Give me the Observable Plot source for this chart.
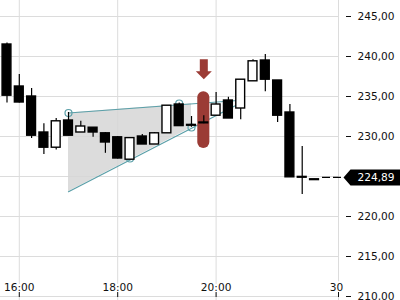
<!DOCTYPE html>
<html>
<head>
<meta charset="utf-8">
<script src="https://cdn.jsdelivr.net/npm/d3@7"></script>
<script src="https://cdn.jsdelivr.net/npm/@observablehq/plot@0.6"></script>
<style>
  html, body { margin: 0; padding: 0; background: #fff; }
</style>
</head>
<body>
<div id="chart"></div>
<script>
// 15-minute candles (index 0..25)
const openV  = [241.5, 236.25, 235.0, 230.5, 228.6, 232.0, 230.5, 231.1, 230.4, 229.9, 227.1, 230.0, 229.0, 230.4, 234.0, 231.45, 231.75, 232.6, 234.5, 233.5, 236.9, 239.5, 237.0, 233.0, 224.95, 224.65];
const closeV = [235.1, 234.25, 230.1, 228.6, 231.9, 230.1, 231.25, 230.5, 229.25, 227.25, 229.8, 229.0, 230.4, 233.85, 231.3, 231.35, 231.65, 234.0, 232.25, 237.1, 239.4, 237.1, 232.6, 224.9, 224.85, 224.55];
const highV  = [241.7, 237.75, 236.0, 231.6, 232.25, 233.0, 231.9, 231.1, 230.5, 230.0, 229.8, 230.25, 230.5, 233.85, 234.2, 232.5, 232.6, 235.5, 234.9, 237.1, 239.6, 240.25, 237.0, 234.0, 228.75, 224.65];
const lowV   = [234.2, 234.2, 229.75, 227.75, 228.3, 230.1, 230.5, 229.9, 227.9, 227.2, 227.1, 229.0, 229.0, 230.4, 231.3, 231.15, 231.6, 232.6, 232.25, 232.1, 236.9, 235.6, 231.75, 224.9, 222.75, 224.55];

const lastPrice = 224.89;

// scales / ticks
const xDomain = [-0.528, 26.95];
const yDomain = [209.5, 247];
const gridYValues = [210, 215, 220, 225, 230, 235, 240, 245];
const yTickValues = [210, 215, 220, 230, 235, 240, 245];
const xTickPos = [1, 9, 17, 26.95];
const xTickLabels = ["16:00", "18:00", "20:00", "30"];

// rising wedge pattern
const wedgeTopX = [5, 18.75];
const wedgeTopY = [232.94, 234.5];
const wedgeLowX = [5, 18.75];
const wedgeLowY = [223.1, 234.0];
const wedgeFillX = [5, 15];
const wedgeFillLow = [223.1, 231.1];
const wedgeFillHigh = [232.94, 234.1];
const pivotX = [5, 14, 10, 15];
const pivotY = [232.94, 234.125, 227.25, 231.125];

// sell signal
const signalIndex = 16;
const signalLow = 228.5;
const signalHigh = 235.6;
const arrowY = 238.4;

const candles = openV.map((o, i) => ({i, open: o, close: closeV[i], high: highV[i], low: lowV[i]}));
const topLine = wedgeTopX.map((x, k) => ({x, y: wedgeTopY[k]}));
const lowLine = wedgeLowX.map((x, k) => ({x, y: wedgeLowY[k]}));
const fillPts = wedgeFillX.map((x, k) => ({x, y1: wedgeFillLow[k], y2: wedgeFillHigh[k]}));
const pivots = pivotX.map((x, k) => ({x, y: pivotY[k]}));
const xTicks = xTickPos.map((x, k) => ({x, label: xTickLabels[k]}));

const teal = "#5a9fa8";
const red = "#9b3b35";
const fontFamily = "DejaVu Sans";
const fontSize = 10.6;
const fmt = d => d.toFixed(2).replace(".", ",");

const arrowSymbol = {
  draw(ctx, size) {
    const s = Math.sqrt(size / Math.PI) / 8;
    ctx.moveTo(-4 * s, -10 * s);
    ctx.lineTo(4 * s, -10 * s);
    ctx.lineTo(4 * s, 2 * s);
    ctx.lineTo(8 * s, 2 * s);
    ctx.lineTo(0, 10 * s);
    ctx.lineTo(-8 * s, 2 * s);
    ctx.lineTo(-4 * s, 2 * s);
    ctx.closePath();
  }
};
const tagSymbol = {
  draw(ctx) {
    ctx.moveTo(0, 0);
    ctx.lineTo(7, -8);
    ctx.lineTo(60, -8);
    ctx.lineTo(60, 8);
    ctx.lineTo(7, 8);
    ctx.closePath();
  }
};

const chart = Plot.plot({
  width: 400,
  height: 300,
  marginTop: 0,
  marginBottom: 0,
  marginLeft: 0,
  marginRight: 62,
  x: {type: "linear", domain: xDomain, axis: null},
  y: {domain: yDomain, axis: null},
  style: {fontFamily, fontSize: fontSize + "px", background: "white", color: "#111"},
  marks: [
    Plot.ruleY(gridYValues, {y: d => d, stroke: "#dcdcdc"}),
    Plot.ruleX(xTicks, {x: "x", stroke: "#dcdcdc"}),
    Plot.text(xTicks.slice(0, 3), {x: "x", text: "label", frameAnchor: "bottom", lineAnchor: "middle", dy: -13, fill: "#111", stroke: "white", strokeWidth: 4}),
    Plot.text(xTicks.slice(3), {x: "x", text: "label", frameAnchor: "bottom", lineAnchor: "middle", dy: -13, dx: -2, fill: "#111", stroke: "white", strokeWidth: 4}),
    Plot.ruleX(xTicks, {x: "x", stroke: "#111", insetTop: 292, insetBottom: 3}),
    Plot.areaY(fillPts, {x: "x", y1: "y1", y2: "y2", fill: "#d6d6d6", fillOpacity: 0.85}),
    Plot.line(topLine, {x: "x", y: "y", stroke: teal, strokeWidth: 1.2}),
    Plot.line(lowLine, {x: "x", y: "y", stroke: teal, strokeWidth: 1.2}),
    Plot.dot(pivots, {x: "x", y: "y", r: 3.5, stroke: teal, fill: "none", strokeWidth: 1.2}),
    Plot.rect([signalIndex], {x1: d => d - 0.49, x2: d => d + 0.49, y1: () => signalLow, y2: () => signalHigh, rx: 6, fill: red}),
    Plot.dot([signalIndex], {x: d => d, y: () => arrowY, r: 8, symbol: arrowSymbol, fill: red, stroke: "none"}),
    Plot.ruleX(candles, {x: "i", y1: "low", y2: "high", stroke: "black", strokeWidth: 1.2}),
    Plot.rect(candles, {
      x1: d => d.i - 0.36, x2: d => d.i + 0.36,
      y1: "open", y2: "close",
      fill: d => d.close > d.open ? "white" : "black",
      stroke: "black", strokeWidth: 1.4
    }),
    Plot.axisY(yTickValues, {anchor: "right", tickSize: 5, dx: 7, tickPadding: 7, tickFormat: fmt, stroke: "#111", fill: "#111"}),
    Plot.ruleY([lastPrice], {y: d => d, x1: () => candles.length - 1 + 0.65, x2: () => xDomain[1], insetRight: -5, stroke: "black", strokeWidth: 1.2, strokeDasharray: "8,3"}),
    Plot.dot([lastPrice], {y: d => d, frameAnchor: "right", dx: 5, symbol: tagSymbol, fill: "black", stroke: "none"}),
    Plot.text([lastPrice], {y: d => d, frameAnchor: "right", dx: 19, textAnchor: "start", lineAnchor: "middle", text: fmt, fill: "white"})
  ]
});
document.getElementById("chart").appendChild(chart);
</script>
</body>
</html>
